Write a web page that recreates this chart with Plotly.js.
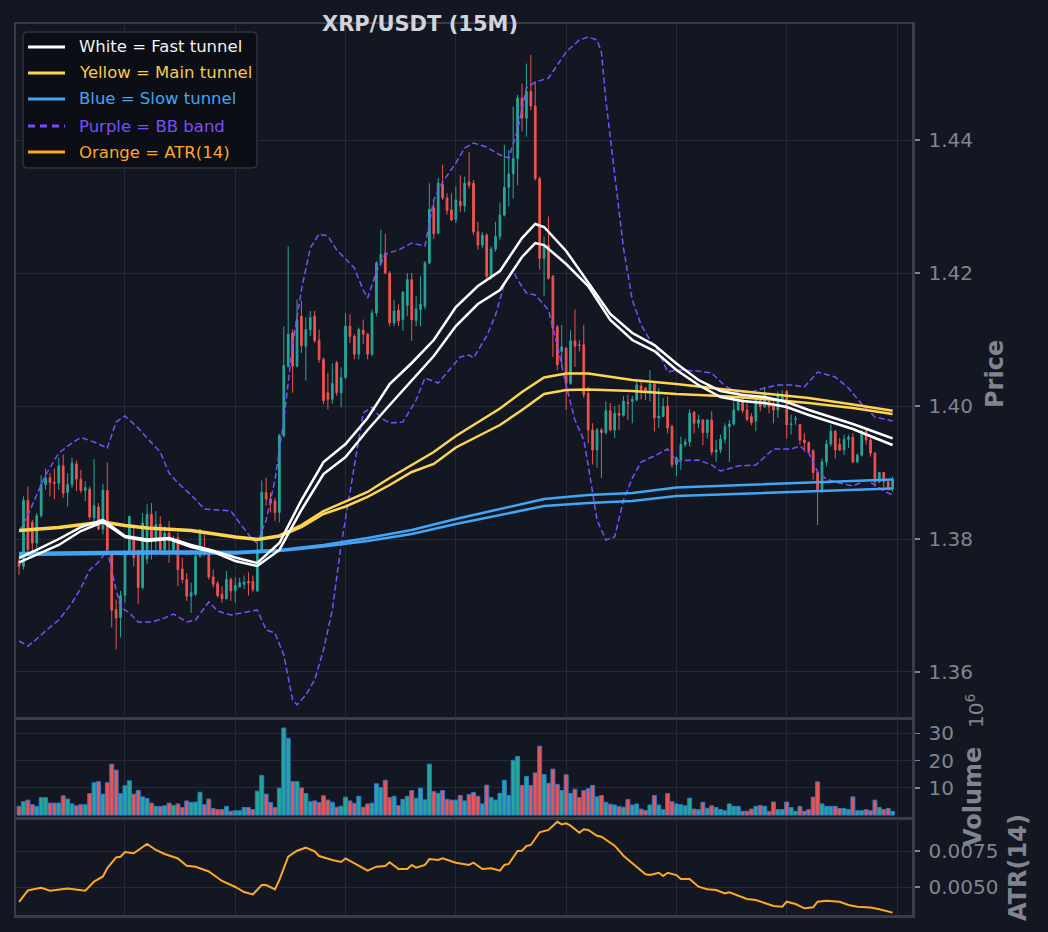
<!DOCTYPE html>
<html><head><meta charset="utf-8">
<script src="https://cdn.plot.ly/plotly-3.0.1.min.js"></script>
<style>html,body{margin:0;padding:0;background:#131722;}#chart{width:1048px;height:932px;}</style>
</head><body><div id="chart"></div>
<script>
// ---------- DATA ----------
const opens = [1.3767,1.3759,1.3858,1.3825,1.3794,1.3835,1.3882,1.3892,1.3885,1.3884,
1.3910,1.3870,1.3882,1.3913,1.3890,1.3873,1.3875,1.3832,1.3848,1.3815,
1.3873,1.3779,1.3694,1.3682,1.3715,1.3779,1.3802,1.3779,1.3727,1.3770,
1.3837,1.3799,1.3822,1.3784,1.3809,1.3784,1.3802,1.3755,1.3739,1.3714,
1.3717,1.3774,1.3782,1.3777,1.3743,1.3733,1.3717,1.3710,1.3739,1.3722,
1.3728,1.3732,1.3736,1.3736,1.3722,1.3782,1.3870,1.3860,1.3857,1.3840,
1.3955,1.4060,1.4110,1.4060,1.4135,1.4090,1.4115,1.4135,1.4099,1.4070,
1.4020,1.4010,1.4065,1.4020,1.4043,1.4120,1.4105,1.4078,1.4114,1.4108,
1.4078,1.4140,1.4215,1.4230,1.4200,1.4125,1.4144,1.4130,1.4151,1.4190,
1.4129,1.4145,1.4150,1.4215,1.4298,1.4260,1.4333,1.4313,1.4295,1.4280,
1.4308,1.4301,1.4337,1.4335,1.4262,1.4242,1.4257,1.4195,1.4236,1.4255,
1.4287,1.4329,1.4349,1.4372,1.4463,1.4433,1.4473,1.4451,1.4342,1.4222,
1.4242,1.4195,1.4119,1.4082,1.4087,1.4034,1.4098,1.4092,1.4092,1.4019,
1.3964,1.3934,1.3964,1.3960,1.3993,1.3964,1.3989,1.3986,1.4005,1.4007,
1.4009,1.4030,1.4027,1.4022,1.4033,1.3982,1.3984,1.4000,1.3969,1.3912,
1.3919,1.3942,1.3946,1.3991,1.3974,1.3979,1.3960,1.3979,1.3931,1.3934,
1.3950,1.3969,1.3973,1.3994,1.4010,1.3994,1.3984,1.3977,1.4010,1.3999,
1.4007,1.4000,1.3994,1.4009,1.4022,1.3972,1.3980,1.3972,1.3949,1.3945,
1.3933,1.3900,1.3874,1.3916,1.3943,1.3962,1.3942,1.3934,1.3950,1.3953,
1.3916,1.3926,1.3962,1.3949,1.3929,1.3886,1.3900,1.3886,1.3876];
const highs = [1.3770,1.3864,1.3879,1.3829,1.3839,1.3896,1.3906,1.3899,1.3906,1.3922,
1.3927,1.3899,1.3922,1.3918,1.3904,1.3887,1.3879,1.3920,1.3854,1.3883,
1.3915,1.3782,1.3709,1.3722,1.3782,1.3835,1.3822,1.3784,1.3839,1.3852,
1.3854,1.3842,1.3834,1.3819,1.3827,1.3804,1.3809,1.3772,1.3749,1.3734,
1.3777,1.3815,1.3807,1.3787,1.3754,1.3737,1.3729,1.3752,1.3742,1.3742,
1.3742,1.3745,1.3750,1.3745,1.3795,1.3888,1.3892,1.3870,1.3862,1.3958,
1.4120,1.4240,1.4115,1.4160,1.4158,1.4133,1.4143,1.4143,1.4115,1.4073,
1.4050,1.4064,1.4068,1.4058,1.4140,1.4138,1.4108,1.4118,1.4130,1.4110,
1.4145,1.4218,1.4265,1.4259,1.4203,1.4160,1.4153,1.4173,1.4200,1.4200,
1.4165,1.4195,1.4218,1.4335,1.4308,1.4343,1.4363,1.4320,1.4320,1.4330,
1.4347,1.4345,1.4382,1.4340,1.4277,1.4262,1.4260,1.4240,1.4277,1.4306,
1.4393,1.4385,1.4450,1.4468,1.4485,1.4515,1.4528,1.4488,1.4345,1.4255,
1.4285,1.4197,1.4122,1.4122,1.4089,1.4114,1.4145,1.4099,1.4122,1.4029,
1.3974,1.3967,1.3967,1.4007,1.4004,1.4000,1.4002,1.4015,1.4017,1.4015,
1.4039,1.4039,1.4029,1.4054,1.4034,1.4027,1.4012,1.4014,1.3972,1.3924,
1.3954,1.3951,1.3995,1.3992,1.3987,1.3980,1.3980,1.3992,1.3949,1.3957,
1.3974,1.3979,1.4012,1.4019,1.4015,1.4004,1.3989,1.4014,1.4014,1.4029,
1.4010,1.4010,1.4022,1.4024,1.4024,1.3987,1.3985,1.3973,1.3959,1.3947,
1.3935,1.3904,1.3921,1.3949,1.3972,1.3964,1.3952,1.3957,1.3957,1.3959,
1.3929,1.3964,1.3964,1.3952,1.3931,1.3901,1.3901,1.3889,1.3894];
const lows = [1.3746,1.3754,1.3779,1.3782,1.3784,1.3832,1.3874,1.3864,1.3860,1.3874,
1.3862,1.3849,1.3877,1.3872,1.3869,1.3857,1.3829,1.3819,1.3813,1.3807,
1.3779,1.3667,1.3634,1.3652,1.3704,1.3777,1.3759,1.3702,1.3724,1.3762,
1.3769,1.3779,1.3779,1.3777,1.3764,1.3779,1.3729,1.3734,1.3707,1.3689,
1.3714,1.3772,1.3774,1.3739,1.3727,1.3712,1.3704,1.3709,1.3707,1.3704,
1.3727,1.3725,1.3715,1.3720,1.3720,1.3780,1.3850,1.3840,1.3827,1.3825,
1.3953,1.4058,1.4020,1.4058,1.4080,1.4038,1.4105,1.4095,1.4065,1.4003,
1.3995,1.4003,1.4015,1.3998,1.4040,1.4095,1.4070,1.4070,1.4093,1.4070,
1.4075,1.4135,1.4210,1.4198,1.4120,1.4120,1.4120,1.4113,1.4135,1.4098,
1.4120,1.4120,1.4145,1.4213,1.4251,1.4258,1.4310,1.4288,1.4278,1.4275,
1.4292,1.4292,1.4327,1.4257,1.4235,1.4237,1.4190,1.4190,1.4232,1.4250,
1.4285,1.4300,1.4312,1.4332,1.4413,1.4405,1.4445,1.4339,1.4205,1.4165,
1.4190,1.4074,1.4054,1.4059,1.3994,1.4032,1.4059,1.4082,1.4012,1.3944,
1.3912,1.3907,1.3892,1.3957,1.3962,1.3952,1.3964,1.3984,1.3979,1.3974,
1.4007,1.4010,1.4009,1.4007,1.3962,1.3967,1.3984,1.3959,1.3907,1.3894,
1.3904,1.3938,1.3939,1.3959,1.3967,1.3941,1.3951,1.3926,1.3916,1.3929,
1.3944,1.3916,1.3971,1.3992,1.3989,1.3977,1.3971,1.3962,1.3992,1.3997,
1.3989,1.3974,1.3982,1.4004,1.3951,1.3957,1.3972,1.3942,1.3931,1.3929,
1.3889,1.3821,1.3869,1.3909,1.3939,1.3921,1.3932,1.3926,1.3937,1.3914,
1.3914,1.3924,1.3942,1.3924,1.3879,1.3884,1.3876,1.3873,1.3871];
const closes = [1.3759,1.3858,1.3784,1.3794,1.3835,1.3882,1.3892,1.3885,1.3884,1.3910,
1.3869,1.3882,1.3914,1.3890,1.3873,1.3877,1.3833,1.3850,1.3815,1.3873,
1.3784,1.3693,1.3681,1.3715,1.3779,1.3834,1.3772,1.3727,1.3824,1.3837,
1.3799,1.3822,1.3784,1.3809,1.3797,1.3799,1.3754,1.3739,1.3714,1.3719,
1.3774,1.3814,1.3777,1.3743,1.3732,1.3715,1.3710,1.3739,1.3722,1.3730,
1.3734,1.3735,1.3734,1.3724,1.3783,1.3870,1.3860,1.3854,1.3840,1.3956,
1.4061,1.4108,1.4060,1.4130,1.4091,1.4115,1.4133,1.4098,1.4070,1.4008,
1.4010,1.4034,1.4020,1.4043,1.4120,1.4105,1.4078,1.4115,1.4108,1.4078,
1.4140,1.4215,1.4228,1.4200,1.4125,1.4143,1.4128,1.4171,1.4190,1.4130,
1.4146,1.4153,1.4215,1.4296,1.4259,1.4335,1.4313,1.4294,1.4280,1.4310,
1.4301,1.4335,1.4332,1.4262,1.4242,1.4257,1.4195,1.4236,1.4255,1.4287,
1.4329,1.4349,1.4372,1.4463,1.4433,1.4473,1.4451,1.4342,1.4222,1.4240,
1.4192,1.4117,1.4062,1.4089,1.4034,1.4098,1.4090,1.4091,1.4017,1.3964,
1.3934,1.3964,1.3960,1.3993,1.3964,1.3989,1.3986,1.4007,1.4004,1.4010,
1.4032,1.4025,1.4022,1.4033,1.3982,1.3985,1.3999,1.3967,1.3912,1.3922,
1.3942,1.3946,1.3989,1.3974,1.3979,1.3960,1.3979,1.3931,1.3934,1.3950,
1.3969,1.3973,1.3994,1.4010,1.3993,1.3980,1.3975,1.4010,1.3999,1.4017,
1.3999,1.3994,1.4017,1.4014,1.3972,1.3973,1.3981,1.3949,1.3945,1.3931,
1.3900,1.3874,1.3916,1.3943,1.3962,1.3934,1.3934,1.3950,1.3953,1.3916,
1.3926,1.3962,1.3949,1.3929,1.3886,1.3900,1.3886,1.3876,1.3890];
// volume in millions
const volumes = [3.2,4.9,5.5,3.8,3.2,6.4,6.4,4.4,4.4,4.4,
7.1,5.9,4.1,3.4,3.8,3.8,7.9,11.9,12.3,7.7,
11.9,18.7,16.5,7.9,10.8,12.6,7.7,9.1,6.7,6.1,
4.4,3.2,3.2,3.4,4.4,3.5,4.1,2.8,5.2,4.6,
4.8,8.4,3.8,5.9,2.4,2.0,2.0,3.2,1.4,1.6,
1.6,2.8,2.8,2.0,8.8,14.5,7.7,4.6,2.8,9.9,
32.0,28.2,12.3,12.3,10.0,7.9,4.9,5.2,4.6,7.1,
5.5,4.7,2.9,3.3,6.6,
5.2,4.3,6.9,2.9,4.1,4.4,11.5,10.1,12.8,6.4,
6.9,3.5,5.8,6.9,9.0,6.2,9.9,5.6,18.7,8.6,
8.0,9.0,5.8,5.5,5.5,7.2,5.2,7.6,8.3,6.9,
4.1,11.0,6.4,5.5,8.0,12.8,7.2,20.1,21.5,10.9,
14.2,10.9,15.5,25.3,14.9,11.7,16.9,11.3,9.0,14.8,
8.0,9.5,6.4,9.0,9.7,10.9,6.7,7.2,4.7,4.0,
3.7,3.1,2.9,5.7,3.7,4.1,2.2,1.7,3.7,7.2,
3.7,2.0,7.9,4.9,4.1,3.8,3.4,6.2,2.2,2.0,
4.7,2.5,3.4,2.8,2.0,1.6,4.1,3.2,3.2,1.4,
1.4,2.2,3.2,3.5,3.2,1.4,4.8,2.0,2.0,4.8,
2.8,1.4,3.2,1.4,2.0,6.6,12.2,4.1,3.2,3.2,
3.2,2.4,2.4,2.0,6.7,1.6,1.6,2.0,1.6,5.5,
2.8,2.0,2.4,1.3];

// fast tunnel (white)
const fastIdx = [1,5,10,15,20,25,30,35,40,45,50,55,60,65,70,75,80,85,90,95,100,105,110,115,118,120,125,130,135,140,145,150,155,160,165,170,175,180,185,190,195,199];
const fastUpper = [1.37714,1.37835,1.38000,1.38180,1.38286,1.38045,1.37992,1.38015,1.37910,1.37824,1.37722,1.37639,1.37940,1.38586,1.39158,1.39429,1.39820,1.40331,1.40647,1.40992,1.41489,1.41805,1.42030,1.42526,1.42737,1.42692,1.42331,1.41865,1.41384,1.41098,1.40917,1.40639,1.40391,1.40226,1.40165,1.40135,1.40060,1.39940,1.39835,1.39729,1.39609,1.39514];
const fastLower = [1.37647,1.37759,1.37910,1.38120,1.38256,1.38030,1.37970,1.38000,1.37880,1.37805,1.37669,1.37594,1.37835,1.38436,1.38977,1.39233,1.39639,1.40015,1.40391,1.40752,1.41203,1.41534,1.41744,1.42241,1.42451,1.42421,1.42135,1.41805,1.41293,1.40992,1.40827,1.40541,1.40316,1.40135,1.40075,1.40045,1.39985,1.39865,1.39759,1.39654,1.39519,1.39414];
// main tunnel (yellow)
const mainIdx = [1,10,20,25,30,40,50,55,60,65,70,75,80,85,90,95,100,105,110,115,120,125,130,140,150,160,170,180,190,199];
const mainUpper = [1.38135,1.38180,1.38263,1.38210,1.38173,1.38135,1.38038,1.38000,1.38053,1.38210,1.38421,1.38564,1.38707,1.38917,1.39113,1.39308,1.39549,1.39759,1.39962,1.40211,1.40429,1.40489,1.40489,1.40391,1.40331,1.40256,1.40188,1.40120,1.40023,1.39929];
const mainLower = [1.38120,1.38165,1.38248,1.38195,1.38158,1.38120,1.38023,1.37985,1.38038,1.38180,1.38376,1.38489,1.38632,1.38812,1.39008,1.39128,1.39376,1.39549,1.39714,1.39940,1.40180,1.40241,1.40248,1.40226,1.40180,1.40150,1.40105,1.40045,1.39970,1.39880];
// slow tunnel (blue)
const slowIdx = [1,10,20,30,40,50,60,70,80,90,100,110,120,130,140,150,160,170,180,190,199];
const slowUpper = [1.37789,1.37797,1.37805,1.37812,1.37812,1.37805,1.37835,1.37910,1.38015,1.38135,1.38301,1.38451,1.38601,1.38662,1.38692,1.38774,1.38797,1.38820,1.38850,1.38872,1.38895];
const slowLower = [1.37759,1.37767,1.37774,1.37782,1.37782,1.37782,1.37820,1.37887,1.37970,1.38075,1.38226,1.38361,1.38496,1.38541,1.38571,1.38647,1.38669,1.38692,1.38722,1.38744,1.38759];
// Bollinger band
const bbUpIdx = [1,3,5,7,10,13,15,18,21,23,25,28,30,33,35,37,40,43,46,49,51,54,55,57,59,61,63,65,67,69,71,73,75,77,79,80,82,84,87,90,93,95,97,100,102,104,107,110,112,114,116,118,121,125,128,130,132,133,134,136,138,140,142,144,146,148,150,155,158,161,164,167,170,173,176,179,182,186,189,192,195,199];
const bbUpper = [1.38105,1.38361,1.38662,1.38962,1.39293,1.39444,1.39526,1.39459,1.39368,1.39759,1.39850,1.39669,1.39519,1.39308,1.38992,1.38842,1.38662,1.38451,1.38436,1.38421,1.38241,1.37985,1.37940,1.38286,1.38887,1.39789,1.40917,1.41744,1.42376,1.42587,1.42556,1.42346,1.42211,1.42075,1.41744,1.41624,1.42015,1.42286,1.42346,1.42451,1.42406,1.43098,1.43368,1.43654,1.43880,1.43955,1.43895,1.43775,1.43729,1.44150,1.44782,1.44872,1.44932,1.45324,1.45504,1.45549,1.45504,1.45324,1.44602,1.43474,1.42376,1.41594,1.41218,1.40992,1.40812,1.40511,1.40541,1.40526,1.40496,1.40301,1.40195,1.40211,1.40271,1.40316,1.40316,1.40286,1.40511,1.40436,1.40271,1.40030,1.39835,1.39774];
const bbLoIdx = [1,3,5,7,10,13,15,17,19,21,23,24,26,28,31,34,36,39,41,44,46,49,55,57,59,61,63,64,66,68,70,72,74,77,79,81,83,85,88,91,93,96,98,101,103,104,107,109,111,113,114,116,118,121,123,125,127,129,130,132,134,136,138,140,142,145,148,150,155,158,160,164,168,172,176,178,180,182,184,186,190,193,195,197,199];
const bbLower = [1.36466,1.36391,1.36496,1.36617,1.36782,1.37038,1.37263,1.37534,1.37654,1.37835,1.37233,1.36977,1.36887,1.36752,1.36752,1.36812,1.36872,1.36752,1.36782,1.37053,1.36917,1.36857,1.36932,1.36632,1.36586,1.36256,1.35579,1.35504,1.35654,1.35880,1.36331,1.36932,1.37910,1.39113,1.39895,1.39985,1.39820,1.39744,1.39759,1.40090,1.40421,1.40346,1.40496,1.40737,1.40767,1.40722,1.41053,1.41368,1.41835,1.42045,1.41895,1.41699,1.41669,1.41444,1.40917,1.40316,1.39789,1.39489,1.39113,1.38286,1.37985,1.38030,1.38586,1.38917,1.39158,1.39248,1.39353,1.39173,1.39188,1.39113,1.39023,1.39098,1.39113,1.39353,1.39353,1.39398,1.39293,1.39008,1.38902,1.38857,1.38797,1.38887,1.38812,1.38722,1.38662];
// ATR(14)
const atrIdx = [1,3,4,6,8,12,16,18,20,21,23,24,25,27,30,32,34,37,39,41,44,47,50,52,54,56,57,59,60,62,64,66,68,69,72,74,75,78,80,82,84,85,87,89,90,91,93,94,96,97,100,103,104,106,108,110,111,112,114,115,116,117,119,121,123,124,125,126,128,129,130,132,133,136,138,140,143,144,146,147,148,150,151,153,155,157,159,161,162,166,168,172,174,175,177,179,181,182,184,187,189,191,194,196,199];
const atrVals = [0.00396,0.00476,0.00483,0.00495,0.00474,0.00490,0.00474,0.00538,0.00573,0.00632,0.00705,0.00710,0.00743,0.00734,0.00799,0.00757,0.00729,0.00698,0.00648,0.00641,0.00608,0.00542,0.00500,0.00465,0.00449,0.00514,0.00514,0.00484,0.00549,0.00710,0.00752,0.00773,0.00747,0.00715,0.00688,0.00674,0.00699,0.00649,0.00613,0.00641,0.00646,0.00672,0.00625,0.00625,0.00653,0.00634,0.00653,0.00694,0.00688,0.00699,0.00669,0.00653,0.00669,0.00625,0.00630,0.00613,0.00653,0.00660,0.00750,0.00752,0.00785,0.00792,0.00880,0.00896,0.00953,0.00935,0.00942,0.00926,0.00877,0.00901,0.00896,0.00856,0.00849,0.00787,0.00717,0.00665,0.00588,0.00583,0.00599,0.00576,0.00599,0.00583,0.00556,0.00556,0.00502,0.00484,0.00479,0.00456,0.00463,0.00417,0.00410,0.00368,0.00363,0.00398,0.00382,0.00352,0.00359,0.00398,0.00405,0.00398,0.00375,0.00363,0.00358,0.00345,0.00322];

const gridIdx = [25,50,75,100,125,150,175,200];
const priceTicks = [1.36,1.38,1.40,1.42,1.44];
const volTicks = [10,20,30];
const atrTicks = [0.0050,0.0075];
const legendLabels = ['White = Fast tunnel','Yellow = Main tunnel','Blue = Slow tunnel','Purple = BB band','Orange = ATR(14)'];

// ---------- STYLE ----------
const BG='#131722', GRID='#262a35', FRAME='#393d48', TICK='#81848e';
const UP='#26a69a', DOWN='#ef5350';
const WHITE='#ffffff', YELLOW='#ffd54f', BLUE='#42a5f5', PURPLE='#7c4dff', ORANGE='#ffa726';
const FONT='DejaVu Sans';

const idx = opens.map((_,k)=>k+1);
const volColors = closes.map((c,k)=> c>=opens[k] ? UP : DOWN);

function ln(x,y,color,width,dash){
  return {type:'scatter',mode:'lines',x:x,y:y,xaxis:'x',yaxis:'y',
    line:{color:color,width:width,dash:dash||'solid'},hoverinfo:'skip',showlegend:false};
}

const traces = [
  {type:'candlestick',x:idx,open:opens,high:highs,low:lows,close:closes,xaxis:'x',yaxis:'y',
   increasing:{line:{color:UP,width:1},fillcolor:UP},decreasing:{line:{color:DOWN,width:1},fillcolor:DOWN},
   whiskerwidth:0,hoverinfo:'skip',showlegend:false},
  ln(bbUpIdx,bbUpper,PURPLE,1.5,'6px,3px'),
  ln(bbLoIdx,bbLower,PURPLE,1.5,'6px,3px'),
  ln(slowIdx,slowUpper,BLUE,2.5),
  ln(slowIdx,slowLower,BLUE,2.5),
  ln(mainIdx,mainUpper,YELLOW,2.5),
  ln(mainIdx,mainLower,YELLOW,2.5),
  ln(fastIdx,fastUpper,WHITE,2.5),
  ln(fastIdx,fastLower,WHITE,2.5),
  {type:'bar',x:idx,y:volumes,xaxis:'x2',yaxis:'y2',width:0.9,
   marker:{color:volColors,line:{color:'#2b78cc',width:1}},hoverinfo:'skip',showlegend:false},
  {type:'scatter',mode:'lines',x:atrIdx,y:atrVals,xaxis:'x3',yaxis:'y3',
   line:{color:ORANGE,width:2},hoverinfo:'skip',showlegend:false}
];

// pixel -> paper helpers (plot area: x 16..912, y 24..915)
const L=16,R=912,T=24,B=915;
const px = x => (x-L)/(R-L);
const py = y => (B-y)/(B-T);

function xax(anchor){
  return {domain:[0,1],anchor:anchor,range:[0.3,203.4],tickvals:gridIdx,showticklabels:false,ticks:'',
    showgrid:true,gridcolor:GRID,gridwidth:1,zeroline:false,showline:true,mirror:true,
    linecolor:FRAME,linewidth:2.5,rangeslider:{visible:false},fixedrange:true};
}
function yax(anchor,domain,range,tickvals,fmt){
  return {domain:domain,anchor:anchor,side:'right',range:range,tickvals:tickvals,tickformat:fmt,
    ticks:'outside',ticklen:5,tickwidth:1.5,tickcolor:TICK,tickfont:{family:FONT,size:20,color:TICK},
    ticklabelstandoff:5,showgrid:true,gridcolor:GRID,gridwidth:1,zeroline:false,showline:true,mirror:true,
    linecolor:FRAME,linewidth:2.5,fixedrange:true};
}

function rrect(x0,y0,x1,y1,r){
  const P=(x,y)=>px(x)+','+py(y);
  return 'M'+P(x0+r,y0)+' L'+P(x1-r,y0)+' Q'+P(x1,y0)+' '+P(x1,y0+r)+
    ' L'+P(x1,y1-r)+' Q'+P(x1,y1)+' '+P(x1-r,y1)+' L'+P(x0+r,y1)+' Q'+P(x0,y1)+' '+P(x0,y1-r)+
    ' L'+P(x0,y0+r)+' Q'+P(x0,y0)+' '+P(x0+r,y0)+' Z';
}

const legendColors=[WHITE,YELLOW,BLUE,PURPLE,ORANGE];
const legendText=['#f2f2f2','#f7cb4d','#42a5f5','#7c4dff','#ffa726'];
const rows=[47,73,99,126,152];
const shapes=[{type:'path',xref:'paper',yref:'paper',path:rrect(23,32,257,168,5),
  fillcolor:'rgba(11,14,20,0.95)',line:{color:'#2e323d',width:1.5},layer:'above'}];
const annotations=[];
rows.forEach((ry,k)=>{
  shapes.push({type:'line',xref:'paper',yref:'paper',x0:px(28),x1:px(65),y0:py(ry),y1:py(ry),
    line:{color:legendColors[k],width:3,dash:k===3?'7px,5px':'solid'},layer:'above'});
  annotations.push({xref:'paper',yref:'paper',x:px(77),y:py(ry),xanchor:'left',yanchor:'middle',
    text:legendLabels[k],showarrow:false,font:{family:FONT,size:16.5,color:legendText[k]}});
});
// axis titles
annotations.push({xref:'paper',yref:'paper',x:px(995),y:py(374),text:'<b>Price</b>',textangle:-90,showarrow:false,
  xanchor:'center',yanchor:'middle',font:{family:FONT,size:24,color:TICK}});
annotations.push({xref:'paper',yref:'paper',x:px(973),y:py(797),text:'<b>Volume</b>',textangle:-90,showarrow:false,
  xanchor:'center',yanchor:'middle',font:{family:FONT,size:24,color:TICK}});
annotations.push({xref:'paper',yref:'paper',x:px(975),y:py(711),text:'10<sup>6</sup>',textangle:-90,showarrow:false,
  xanchor:'center',yanchor:'middle',font:{family:FONT,size:20,color:TICK}});
annotations.push({xref:'paper',yref:'paper',x:px(1018),y:py(868),text:'<b>ATR(14)</b>',textangle:-90,showarrow:false,
  xanchor:'center',yanchor:'middle',font:{family:FONT,size:24,color:TICK}});

const layout={
  width:1048,height:932,paper_bgcolor:BG,plot_bgcolor:BG,
  margin:{l:L,r:1048-R,t:T,b:932-B,pad:0},
  font:{family:FONT,color:TICK},
  showlegend:false,boxgap:0.45,bargap:0.1,
  title:{text:'<b>XRP/USDT (15M)</b>',font:{family:FONT,size:21,color:'#d1d4dc'},
    x:420/1048,xref:'container',xanchor:'center',y:1-24/932,yref:'container',yanchor:'middle'},
  xaxis:xax('y'),xaxis2:xax('y2'),xaxis3:xax('y3'),
  yaxis:yax('x',[py(717),1],[1.35323,1.45745],priceTicks,'.2f'),
  yaxis2:yax('x2',[py(817),py(719)],[-0.7,35.3],volTicks,'d'),
  yaxis3:yax('x3',[0,py(819)],[0.003056,0.009722],atrTicks,'.4f'),
  shapes:shapes,annotations:annotations
};
Plotly.newPlot('chart',traces,layout,{staticPlot:true,displayModeBar:false});
</script></body></html>
